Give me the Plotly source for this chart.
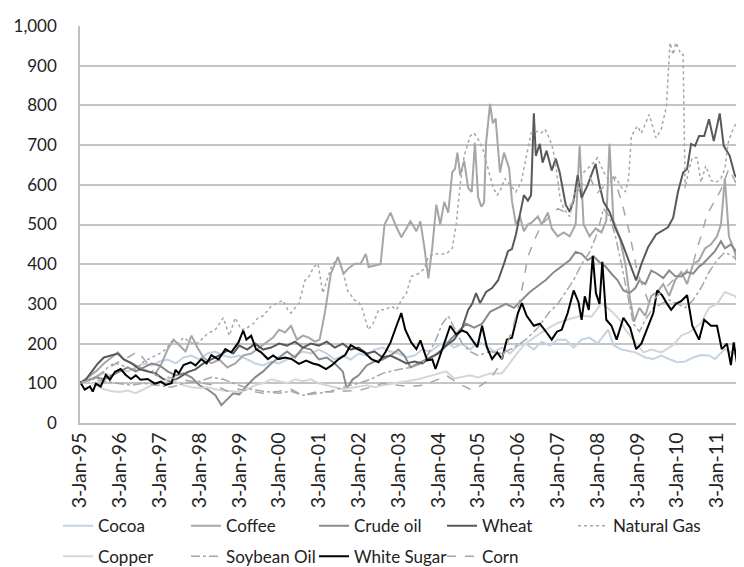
import plotly.graph_objects as go

# ---------------- data ----------------
tick_years = list(range(1995, 2012))
tick_labels = ["3-Jan-%02d" % (y % 100) for y in tick_years]

cocoa_t = [1995.0,1995.2,1995.4,1995.6,1995.8,1996.0,1996.2,1996.4,1996.6,1996.8,1997.0,1997.2,1997.4,1997.6,1997.8,1998.0,1998.2,1998.4,1998.6,1998.8,1999.0,1999.2,1999.4,1999.6,1999.8,2000.0,2000.2,2000.4,2000.6,2000.8,2001.0,2001.2,2001.4,2001.6,2001.8,2002.0,2002.2,2002.4,2002.6,2002.8,2003.0,2003.2,2003.4,2003.6,2003.8,2004.0,2004.2,2004.4,2004.6,2004.8,2005.0,2005.2,2005.4,2005.6,2005.8,2006.0,2006.2,2006.4,2006.6,2006.8,2007.0,2007.2,2007.4,2007.6,2007.8,2008.0,2008.27,2008.4,2008.6,2008.95,2009.2,2009.4,2009.6,2009.8,2010.0,2010.2,2010.4,2010.6,2010.8,2010.95,2011.2,2011.4,2011.6,2011.88]
cocoa_v = [100,108,115,125,120,135,130,140,150,145,155,160,150,165,170,160,175,180,170,165,170,160,150,145,155,150,160,170,180,175,185,175,160,170,160,175,170,185,190,180,175,165,170,185,180,195,205,190,200,185,205,195,180,190,175,195,200,185,205,195,210,210,190,210,215,200,235,196,185,178,165,161,170,161,153,155,165,171,170,161,186,175,170,165]

coffee_t = [1995.0,1995.2,1995.4,1995.6,1995.8,1995.95,1996.1,1996.3,1996.5,1996.7,1996.9,1997.05,1997.2,1997.35,1997.5,1997.65,1997.8,1997.95,1998.1,1998.3,1998.5,1998.7,1998.9,1999.1,1999.3,1999.5,1999.7,1999.85,2000.0,2000.15,2000.3,2000.45,2000.6,2000.75,2000.9,2001.02,2001.15,2001.3,2001.48,2001.62,2001.75,2001.9,2002.05,2002.18,2002.25,2002.4,2002.55,2002.65,2002.8,2002.92,2003.07,2003.2,2003.3,2003.45,2003.55,2003.65,2003.75,2003.85,2003.95,2004.05,2004.15,2004.25,2004.35,2004.42,2004.48,2004.55,2004.65,2004.75,2004.84,2004.92,2005.0,2005.08,2005.15,2005.2,2005.3,2005.37,2005.44,2005.55,2005.65,2005.78,2005.85,2005.95,2006.05,2006.15,2006.25,2006.35,2006.5,2006.6,2006.75,2006.85,2007.0,2007.15,2007.3,2007.45,2007.55,2007.65,2007.8,2007.95,2008.1,2008.22,2008.3,2008.4,2008.55,2008.7,2008.82,2008.92,2009.05,2009.2,2009.35,2009.5,2009.65,2009.8,2009.95,2010.1,2010.25,2010.4,2010.55,2010.7,2010.85,2011.0,2011.1,2011.2,2011.3,2011.45,2011.6,2011.75,2011.88]
coffee_v = [100,115,130,150,165,178,160,150,140,130,125,150,185,210,195,180,220,190,165,150,160,140,150,170,175,190,205,215,235,228,245,210,220,215,205,210,277,376,418,376,390,401,401,426,393,396,400,500,530,500,468,490,508,483,508,443,364,443,550,500,557,530,631,640,681,624,661,592,582,706,569,545,555,705,804,755,767,631,681,641,560,500,520,483,500,505,520,500,530,490,470,480,470,500,698,500,470,490,480,510,703,510,470,400,310,255,290,270,320,330,350,320,360,380,350,400,410,440,450,470,500,616,470,430,360,300,250]

crude_t = [1995.0,1995.2,1995.4,1995.6,1995.8,1996.0,1996.2,1996.4,1996.6,1996.8,1997.0,1997.2,1997.4,1997.6,1997.8,1998.0,1998.2,1998.4,1998.55,1998.7,1998.85,1999.0,1999.2,1999.4,1999.6,1999.8,2000.0,2000.2,2000.4,2000.6,2000.8,2001.0,2001.2,2001.4,2001.6,2001.7,2001.85,2002.0,2002.2,2002.4,2002.6,2002.8,2003.0,2003.15,2003.3,2003.5,2003.7,2003.9,2004.1,2004.3,2004.5,2004.7,2004.9,2005.1,2005.3,2005.5,2005.7,2005.9,2006.1,2006.3,2006.5,2006.7,2006.9,2007.1,2007.3,2007.45,2007.6,2007.75,2007.9,2008.05,2008.2,2008.35,2008.5,2008.65,2008.8,2008.95,2009.05,2009.2,2009.35,2009.5,2009.65,2009.8,2009.95,2010.1,2010.25,2010.4,2010.55,2010.65,2010.8,2010.95,2011.1,2011.2,2011.35,2011.5,2011.65,2011.75,2011.88]
crude_v = [100,108,115,110,120,128,140,130,140,150,145,130,120,125,115,95,85,70,45,60,75,72,95,115,130,150,165,180,165,190,185,160,165,150,130,87,110,120,145,155,160,170,185,170,140,150,160,170,185,210,230,250,240,250,280,290,300,290,310,330,345,360,380,395,410,431,426,410,420,405,394,376,360,334,327,340,359,350,384,376,365,384,370,369,380,376,394,401,418,433,458,440,450,430,400,376,395]

wheat_t = [1995.0,1995.15,1995.3,1995.45,1995.6,1995.75,1995.95,1996.1,1996.3,1996.5,1996.7,1996.9,1997.1,1997.3,1997.5,1997.7,1997.9,1998.1,1998.3,1998.5,1998.7,1998.85,1999.0,1999.2,1999.4,1999.6,1999.8,2000.0,2000.2,2000.4,2000.6,2000.8,2001.0,2001.2,2001.4,2001.6,2001.8,2002.0,2002.2,2002.4,2002.6,2002.8,2003.0,2003.2,2003.4,2003.6,2003.8,2004.0,2004.2,2004.4,2004.6,2004.75,2004.85,2004.95,2005.05,2005.2,2005.35,2005.5,2005.65,2005.75,2005.85,2005.95,2006.05,2006.15,2006.25,2006.33,2006.4,2006.45,2006.55,2006.62,2006.72,2006.85,2006.95,2007.05,2007.2,2007.3,2007.4,2007.5,2007.6,2007.75,2007.95,2008.05,2008.15,2008.3,2008.45,2008.6,2008.75,2008.97,2009.1,2009.27,2009.47,2009.77,2009.9,2010.02,2010.15,2010.25,2010.35,2010.45,2010.55,2010.68,2010.8,2010.92,2011.07,2011.17,2011.32,2011.45,2011.55,2011.68,2011.8,2011.88]
wheat_v = [100,110,130,150,165,170,175,160,150,135,130,125,110,105,115,128,135,150,160,170,183,175,195,185,200,185,190,200,195,205,190,200,195,205,190,200,185,190,175,180,165,170,160,150,155,150,165,175,195,210,240,285,300,327,302,330,340,359,401,433,438,475,525,574,560,574,780,673,703,656,686,636,666,631,550,532,560,624,567,599,653,599,557,532,490,458,418,359,400,443,475,493,517,582,631,640,703,698,723,723,765,710,780,698,673,624,611,619,605,620]

gas_t = [1995.0,1995.15,1995.3,1995.5,1995.7,1995.85,1996.0,1996.2,1996.4,1996.6,1996.8,1997.0,1997.15,1997.3,1997.45,1997.6,1997.75,1997.9,1998.05,1998.2,1998.4,1998.6,1998.75,1998.9,1999.05,1999.2,1999.35,1999.47,1999.6,1999.8,1999.95,2000.1,2000.22,2000.3,2000.5,2000.65,2000.75,2000.88,2000.98,2001.1,2001.2,2001.32,2001.48,2001.6,2001.72,2001.9,2002.02,2002.1,2002.24,2002.37,2002.5,2002.67,2002.82,2002.95,2003.07,2003.2,2003.32,2003.5,2003.65,2003.75,2003.9,2004.2,2004.35,2004.45,2004.55,2004.65,2004.8,2004.9,2005.0,2005.12,2005.25,2005.38,2005.48,2005.58,2005.67,2005.8,2005.95,2006.08,2006.2,2006.33,2006.45,2006.58,2006.68,2006.8,2006.88,2006.95,2007.06,2007.15,2007.3,2007.4,2007.52,2007.65,2007.9,2008.0,2008.08,2008.2,2008.32,2008.45,2008.6,2008.7,2008.78,2008.85,2009.0,2009.1,2009.3,2009.38,2009.47,2009.6,2009.73,2009.82,2009.9,2009.97,2010.1,2010.15,2010.2,2010.3,2010.38,2010.5,2010.6,2010.72,2010.85,2010.98,2011.1,2011.2,2011.28,2011.4,2011.58,2011.7,2011.82,2011.88]
gas_v = [100,105,112,120,140,150,148,138,135,155,165,175,185,205,200,215,205,198,210,225,235,265,220,265,235,240,250,265,270,294,302,309,285,277,302,359,369,394,401,327,359,394,418,384,334,309,302,285,235,252,285,285,294,285,309,327,369,376,389,418,426,426,440,500,600,673,723,730,715,690,641,592,574,590,616,599,582,606,666,730,735,730,740,715,690,648,567,540,520,567,606,631,656,668,648,624,606,619,594,582,616,723,748,730,777,748,718,740,797,958,928,958,928,928,592,640,668,668,606,648,611,606,616,641,705,740,772,748,755,730]

copper_t = [1995.0,1995.2,1995.4,1995.6,1995.8,1996.0,1996.2,1996.4,1996.6,1996.8,1997.0,1997.2,1997.4,1997.6,1997.8,1998.0,1998.2,1998.4,1998.6,1998.8,1999.0,1999.2,1999.4,1999.6,1999.8,2000.0,2000.2,2000.4,2000.6,2000.8,2001.0,2001.2,2001.4,2001.6,2001.8,2002.0,2002.2,2002.4,2002.6,2002.8,2003.0,2003.5,2004.0,2004.2,2004.4,2004.8,2005.0,2005.3,2005.6,2005.8,2006.0,2006.15,2006.4,2006.7,2007.0,2007.3,2007.6,2007.85,2008.1,2008.25,2008.4,2008.55,2008.7,2008.95,2009.15,2009.35,2009.6,2009.9,2010.1,2010.3,2010.45,2010.6,2010.8,2011.0,2011.2,2011.45,2011.65,2011.88]
copper_v = [100,105,95,85,80,78,82,75,85,95,100,110,105,95,90,88,90,85,82,80,78,85,95,100,110,105,100,110,105,110,100,95,90,85,88,92,95,90,95,98,102,110,125,130,112,120,115,125,125,153,178,196,215,235,252,262,270,268,302,290,277,260,235,203,178,185,178,196,220,228,240,252,290,300,330,320,290,260]

soy_t = [1995.0,1995.3,1995.6,1996.0,1996.3,1996.6,1997.0,1997.3,1997.6,1998.0,1998.3,1998.6,1999.0,1999.3,1999.6,2000.0,2000.3,2000.6,2001.0,2001.3,2001.6,2002.0,2002.3,2002.6,2003.0,2003.3,2003.6,2003.9,2004.1,2004.25,2004.4,2004.6,2004.8,2005.0,2005.3,2005.6,2005.9,2006.2,2006.5,2006.8,2007.0,2007.2,2007.4,2007.6,2007.8,2008.0,2008.15,2008.3,2008.45,2008.6,2008.75,2008.9,2009.05,2009.2,2009.4,2009.6,2009.8,2010.0,2010.2,2010.4,2010.6,2010.8,2011.0,2011.2,2011.4,2011.6,2011.88]
soy_v = [100,110,105,100,95,100,95,90,100,105,115,110,95,85,80,75,80,70,75,80,90,100,110,125,135,140,150,200,250,270,240,200,180,170,180,175,190,210,240,280,300,330,360,400,430,480,540,520,470,400,320,250,230,260,290,300,310,300,290,310,340,380,410,430,420,400,380]

sugar_t = [1995.0,1995.12,1995.25,1995.32,1995.4,1995.52,1995.65,1995.75,1995.88,1996.02,1996.15,1996.28,1996.4,1996.52,1996.7,1996.88,1997.03,1997.15,1997.3,1997.4,1997.48,1997.6,1997.78,1997.9,1998.05,1998.18,1998.3,1998.48,1998.65,1998.8,1998.98,1999.1,1999.18,1999.3,1999.42,1999.55,1999.72,1999.85,1999.98,2000.15,2000.32,2000.5,2000.68,2000.85,2001.0,2001.18,2001.32,2001.5,2001.66,2001.8,2001.97,2002.14,2002.32,2002.5,2002.67,2002.8,2002.95,2003.07,2003.17,2003.32,2003.45,2003.55,2003.72,2003.85,2003.93,2004.05,2004.18,2004.3,2004.45,2004.6,2004.72,2004.85,2004.98,2005.1,2005.22,2005.35,2005.48,2005.6,2005.72,2005.85,2006.0,2006.1,2006.22,2006.4,2006.55,2006.72,2006.85,2006.98,2007.1,2007.25,2007.4,2007.52,2007.6,2007.68,2007.78,2007.88,2007.96,2008.05,2008.12,2008.22,2008.35,2008.48,2008.65,2008.82,2008.97,2009.1,2009.27,2009.4,2009.5,2009.62,2009.75,2009.85,2009.97,2010.1,2010.25,2010.38,2010.55,2010.68,2010.85,2011.0,2011.12,2011.25,2011.35,2011.42,2011.5,2011.62,2011.75,2011.88]
sugar_v = [104,84,92,79,99,92,121,109,129,136,121,111,120,109,111,99,104,96,100,134,125,146,153,145,161,150,171,160,186,178,203,233,210,220,186,178,161,170,161,165,161,149,157,150,146,136,145,161,171,196,186,178,161,153,178,203,245,277,235,203,186,208,158,160,136,171,210,245,223,233,228,210,191,245,191,161,178,161,210,215,277,302,270,245,250,228,210,230,235,277,334,305,260,319,285,421,327,300,406,260,245,210,265,240,186,200,245,277,334,322,300,285,300,307,322,245,210,260,245,245,186,200,146,203,153,210,196,171]

corn_t = [1995.0,1995.3,1995.6,1995.9,1996.2,1996.45,1996.7,1996.9,1997.2,1997.5,1997.8,1998.1,1998.4,1998.7,1999.0,1999.3,1999.6,2000.0,2000.3,2000.6,2001.0,2001.3,2001.6,2002.0,2002.3,2002.6,2003.0,2003.3,2003.6,2004.0,2004.2,2004.5,2004.8,2005.0,2005.3,2005.5,2005.7,2005.9,2006.05,2006.15,2006.25,2006.4,2006.6,2006.8,2007.0,2007.2,2007.4,2007.6,2007.8,2008.0,2008.2,2008.4,2008.6,2008.8,2009.0,2009.3,2009.6,2009.9,2010.2,2010.4,2010.5,2010.6,2010.75,2010.95,2011.1,2011.3,2011.5,2011.7,2011.88]
corn_v = [100,110,130,150,165,180,150,120,115,110,105,100,95,80,85,80,75,80,85,70,80,78,80,82,90,100,95,92,95,110,120,100,85,90,110,140,190,250,309,359,418,458,500,520,540,530,560,600,620,580,600,620,560,480,380,300,330,360,380,401,440,470,525,560,587,641,600,690,720,700]

# ---------------- figure ----------------
series = [
    ("Cocoa", cocoa_t, cocoa_v, "#c3d3e3", "solid", 2, "legend"),
    ("Coffee", coffee_t, coffee_v, "#a6a6a6", "solid", 2, "legend"),
    ("Crude oil", crude_t, crude_v, "#8a8a8a", "solid", 2, "legend"),
    ("Wheat", wheat_t, wheat_v, "#595959", "solid", 2, "legend"),
    ("Natural Gas", gas_t, gas_v, "#a6a6a6", "dot", 1.5, "legend3"),
    ("Copper", copper_t, copper_v, "#d6d6d6", "solid", 2, "legend2"),
    ("Soybean Oil", soy_t, soy_v, "#a6a6a6", "dashdot", 1.5, "legend2"),
    ("White Sugar", sugar_t, sugar_v, "#000000", "solid", 2, "legend2"),
    ("Corn", corn_t, corn_v, "#a6a6a6", "dash", 1.5, "legend2"),
]

fig = go.Figure()
for name, t, v, col, dash, w, leg in series:
    fig.add_trace(go.Scatter(x=t, y=v, mode="lines", name=name, legend=leg,
                             line=dict(color=col, dash=dash, width=w)))

FONT = "Lato"
leg_common = dict(orientation="h", entrywidth=83, entrywidthmode="pixels",
                  xanchor="left", yanchor="middle",
                  font=dict(family=FONT, size=17, color="#222222"),
                  bgcolor="rgba(0,0,0,0)", itemwidth=30, traceorder="normal")

fig.update_layout(
    width=744, height=567,
    margin=dict(l=72, r=0, t=18, b=145),
    paper_bgcolor="white", plot_bgcolor="white",
    font=dict(family=FONT, size=17, color="#222222"),
    showlegend=True,
    legend=dict(x=-0.0327, y=-0.26, **leg_common),
    legend2=dict(x=-0.0327, y=-0.337, **leg_common),
    legend3=dict(x=0.7337, y=-0.26, **leg_common),
    xaxis=dict(range=[1995, 2011.88], tickmode="array", tickvals=tick_years,
               ticktext=tick_labels, tickangle=-90, showgrid=False,
               zeroline=False, showline=True, linecolor="#bfbfbf", linewidth=1.5,
               tickfont=dict(family=FONT, size=19.5, color="#222222"), ticks=""),
    yaxis=dict(range=[0, 1000], tickmode="linear", tick0=0, dtick=100,
               tickformat=",d", showgrid=True, gridcolor="#c4c4c4", gridwidth=1.5,
               zeroline=False, showline=True, linecolor="#bfbfbf", linewidth=1.5,
               tickfont=dict(family=FONT, size=17, color="#222222"), ticks="",
               ticklabelstandoff=18),
)

fig.write_html("out.html")
